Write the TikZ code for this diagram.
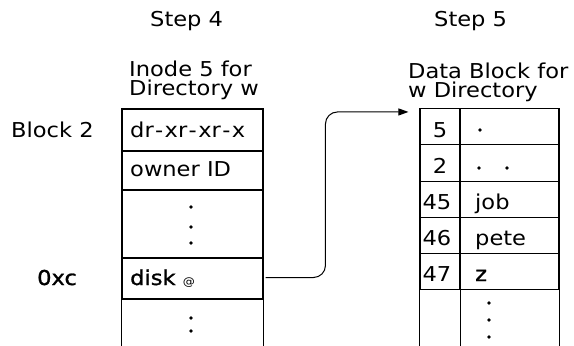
\documentclass[tikz,border=0pt]{standalone}
\usepackage{fontspec}
\setmainfont{DejaVu Sans}[FakeStretch=1.1]
\newfontfamily\medfont{DejaVu Sans}[FakeStretch=1.1, FakeBold=1.2]
\usetikzlibrary{arrows.meta,calc}
\newcommand{\hy}{\kern1.4pt-\kern1.4pt}
\begin{document}
\begin{tikzpicture}[x=1pt,y=-1pt,
  font=\fontsize{20.5}{24}\selectfont,
  txt/.style={inner sep=0pt, anchor=base west},
  ctxt/.style={inner sep=0pt, anchor=base},
  cellL/.style={draw, line width=1.1pt, inner sep=0pt, minimum width=141pt},
  cellN/.style={draw, line width=1.1pt, inner sep=0pt, minimum width=40pt},
  cellT/.style={draw, line width=1.1pt, inner sep=0pt, minimum width=99pt},
  openL/.style={inner sep=0pt, minimum width=141pt},
  openN/.style={inner sep=0pt, minimum width=40pt},
  openT/.style={inner sep=0pt, minimum width=99pt},
  sides/.style={line width=1.1pt},
  dot/.style={circle, fill, inner sep=0pt, minimum size=3.6pt},
  conn/.style={line width=1pt, rounded corners=12pt, -{Triangle[length=10pt,width=7pt]}}
]
\useasboundingbox (0,0) rectangle (574,346);

% headers
\node[txt] (s4) at (150,26) {Step 4};
\node[txt] (s5) at (434,26) {Step 5};
\node[txt] (h1a) at (129,76) {Inode 5 for};
\node[txt] (h1b) at (129,95) {Directory w};
\node[txt] (h2a) at (408,78) {Data Block for};
\node[txt] (h2b) at (408,97) {w Directory};

% left table
\node[cellL, minimum height=42pt] (L1) at (192.5,130) {};
\node[cellL, minimum height=39pt] (L2) at (192.5,170.5) {};
\node[cellL, minimum height=68pt] (L3) at (192.5,224) {};
\node[cellL, minimum height=41pt] (L4) at (192.5,278.5) {};
\node[openL, minimum height=47pt] (L5) at (192.5,322.5) {};
\draw[sides] (L5.north west) -- (L5.south west) (L5.north east) -- (L5.south east);

\node[txt] (t1) at (130,137) {dr\hy xr\hy xr\hy x};
\node[txt] (t2) at (130,176) {owner ID};
\node[txt] (t4) at (130,285) {{\medfont disk} {\fontsize{11}{12}\selectfont @}};
\node[dot] (ld1) at (191,207) {};
\node[dot] (ld2) at (191,227) {};
\node[dot] (ld3) at (191,243) {};
\node[dot] (ld4) at (191,318) {};
\node[dot] (ld5) at (191,331) {};

\node[txt] (b2) at (11,137) {Block 2};
\node[txt] (oxc) at (37,285) {\medfont 0xc};

% right table
\node[cellN, minimum height=36pt] (N1) at (440,126.5) {};
\node[cellT, minimum height=36pt] (T1) at (509.5,126.5) {};
\node[cellN, minimum height=37pt] (N2) at (440,163) {};
\node[cellT, minimum height=37pt] (T2) at (509.5,163) {};
\node[cellN, minimum height=36pt] (N3) at (440,199.5) {};
\node[cellT, minimum height=36pt] (T3) at (509.5,199.5) {};
\node[cellN, minimum height=36pt] (N4) at (440,235.5) {};
\node[cellT, minimum height=36pt] (T4) at (509.5,235.5) {};
\node[cellN, minimum height=36pt] (N5) at (440,271.5) {};
\node[cellT, minimum height=36pt] (T5) at (509.5,271.5) {};
\node[openN, minimum height=57pt] (N6) at (440,318) {};
\node[openT, minimum height=57pt] (T6) at (509.5,318) {};
\draw[sides] (N6.north west) -- (N6.south west) (N6.north east) -- (N6.south east)
             (T6.north east) -- (T6.south east);

\node[ctxt] (n1) at (440,137) {5};
\node[ctxt] (n2) at (440,173) {2};
\node[ctxt] (n3) at (437,209) {45};
\node[ctxt] (n4) at (437,245) {46};
\node[ctxt] (n5) at (437,281) {47};
\node[dot] (rd1) at (480,130) {};
\node[dot] (rd2) at (479,168) {};
\node[dot] (rd3) at (507,168) {};
\node[txt] (m3) at (475,209) {job};
\node[txt] (m4) at (475,245) {pete};
\node[txt] (m5) at (475,281) {\medfont z};
\node[dot] (rd4) at (489,303) {};
\node[dot] (rd5) at (489,320) {};
\node[dot] (rd6) at (489,337) {};

% connector
\coordinate (tip) at ($(N1.north west)+(-11,4)$);
\coordinate (bend) at ($(tip)+(-83,0)$);
\draw[conn] ($(L4.east)+(2,-1)$) -| (bend) -- (tip);
\end{tikzpicture}
\end{document}
